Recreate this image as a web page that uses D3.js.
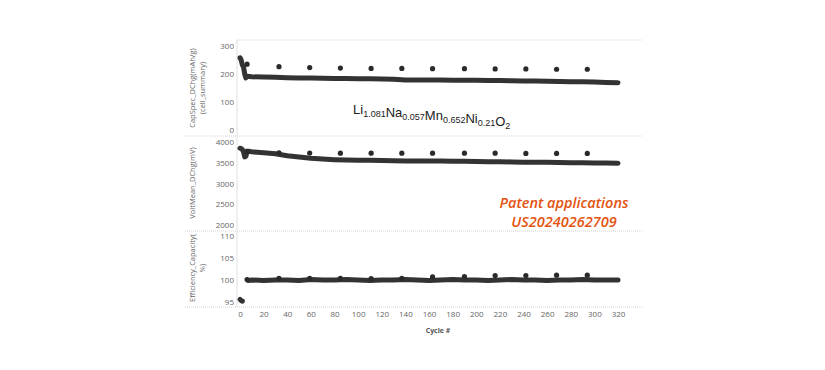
<!DOCTYPE html>
<html><head><meta charset="utf-8">
<script src="https://cdn.jsdelivr.net/npm/d3@7"></script>
<style>body{margin:0;background:#fff}svg{display:block}</style>
</head><body><svg id="c" width="825" height="370"></svg>
<script>
// ---- data ----
const cycles = [0,1,2,3,4,5,6,8,10,20,30,40,50,60,70,80,90,100,110,120,130,140,150,160,170,180,190,200,210,220,230,240,250,260,270,280,290,300,310,320];
const capacity = [258,250,232,225,200,186,192,191,190,189,188,187,186,186,185,184,184,183,183,182,181,179,179,179,179,178,178,178,177,177,176,175,175,174,173,172,172,171,170,169];
const voltage = [3850,3840,3820,3760,3640,3660,3780,3775,3765,3740,3715,3670,3640,3610,3590,3575,3565,3560,3560,3555,3550,3545,3545,3540,3540,3535,3535,3530,3525,3525,3520,3515,3515,3510,3505,3500,3500,3495,3495,3490];
const effStartCycles = [0,1,2];
const effStart = [95.6,95.3,95.2];
const effCycles = [7,10,20,30,40,50,60,70,80,90,100,110,120,130,140,150,160,170,180,190,200,210,220,230,240,250,260,270,280,290,300,310,320];
const efficiency = [99.9,100.0,99.9,100.0,100.0,99.9,100.1,100.0,100.0,100.1,100.0,99.9,100.0,100.0,100.1,100.0,99.9,100.0,100.1,100.0,100.0,99.9,100.0,100.1,100.0,100.0,99.9,100.0,100.0,100.1,100.0,100.0,100.0];
const dotCycles = [6,33,59,85,111,137,163,190,216,242,268,294];
const capDots = [235,226,223,221,220,220,219,219,218,218,217,217];
const voltDots = [3760,3740,3735,3730,3730,3730,3730,3730,3730,3725,3725,3725];
const effDots = [100.1,100.4,100.4,100.4,100.3,100.4,100.7,100.8,101.0,101.0,101.1,101.1];
const xTicks = [0,20,40,60,80,100,120,140,160,180,200,220,240,260,280,300,320];
const capTicks = [0,100,200,300];
const voltTicks = [2000,2500,3000,3500,4000];
const effTicks = [95,100,105,110];

const svg = d3.select("#c");
const font = "'Open Sans', 'Liberation Sans', sans-serif";
const x = d3.scaleLinear().domain([0,320]).range([240,618]);
const yCap = d3.scaleLinear().domain([0,300]).range([130,46]);
const yVolt = d3.scaleLinear().domain([2000,4000]).range([225,142]);
const yEff = d3.scaleLinear().domain([95,110]).range([302,236]);

// separators
const sep = [[237,40],[185,136],[185,231],[185,307]];
sep.forEach(([x0,y])=>svg.append("line").attr("x1",x0).attr("x2",642).attr("y1",y).attr("y2",y)
  .attr("stroke","#d4d4d4").attr("stroke-width",1).attr("stroke-dasharray","1,1"));
svg.append("line").attr("x1",237).attr("x2",237).attr("y1",40).attr("y2",307).attr("stroke","#e0e0e0");

// y axes
function yAxis(scale, ticks){
  const g = svg.append("g").attr("transform","translate(235,0)")
    .call(d3.axisLeft(scale).tickValues(ticks).tickSize(0).tickPadding(1).tickFormat(d3.format("d")));
  g.select(".domain").remove();
  g.selectAll("text").attr("font-family",font).attr("font-size",8).attr("fill","#666");
}
yAxis(yCap,capTicks); yAxis(yVolt,voltTicks); yAxis(yEff,effTicks);

// x axis
const gx = svg.append("g").attr("transform","translate(0,311)")
  .call(d3.axisBottom(x).tickValues(xTicks).tickSize(0).tickPadding(0));
gx.select(".domain").remove();
gx.selectAll("text").attr("font-family",font).attr("font-size",8).attr("fill","#666");
svg.append("text").attr("x",438).attr("y",333).attr("text-anchor","middle").attr("font-family",font)
  .attr("font-size",7).attr("font-weight","bold").attr("fill","#555").text("Cycle #");

// y titles
function yTitle(lines, cx, cy){
  lines.forEach((t,i)=>svg.append("text").attr("transform",`translate(${cx+i*10},${cy}) rotate(-90)`)
    .attr("text-anchor","middle").attr("font-family",font).attr("font-size",7.5).attr("fill","#666").text(t));
}
yTitle(["CapSpec_DChg(mAh/g)","(cell_summary)"],195,88);
yTitle(["VoltMean_DChg(mV)"],195,183);
yTitle(["Efficiency_Capacity(","%)"],195,268);

// lines
const dark = "#333";
function series(cs, vs, ys){
  const pts = cs.map((c,i)=>[x(c), ys(vs[i])]);
  svg.append("path").attr("d",d3.line()(pts)).attr("fill","none").attr("stroke",dark)
    .attr("stroke-width",5).attr("stroke-linejoin","round").attr("stroke-linecap","round");
}
series(cycles,capacity,yCap);
series(cycles,voltage,yVolt);
series(effStartCycles,effStart,yEff);
series(effCycles,efficiency,yEff);

function dots(vs, ys){
  svg.append("g").selectAll("circle").data(dotCycles).join("circle")
    .attr("cx",c=>x(c)).attr("cy",(c,i)=>ys(vs[i])).attr("r",2.6).attr("fill","#2a2a2a");
}
dots(capDots,yCap); dots(voltDots,yVolt); dots(effDots,yEff);

// formula
const f = svg.append("text").attr("x",353).attr("y",114).attr("font-family","'Liberation Sans', Arial, sans-serif")
  .attr("font-size",13).attr("fill","#222");
[["Li","1.081"],["Na","0.057"],["Mn","0.652"],["Ni","0.21"],["O","2"]].forEach(([el,s])=>{
  f.append("tspan").attr("dy",0).text(el);
  f.append("tspan").attr("font-size",9).attr("dy",3).text(s);
  f.append("tspan").attr("font-size",13).attr("dy",-3).text("");
});

// watermark
const wm = svg.append("text").attr("text-anchor","middle").attr("font-family","'Open Sans', sans-serif")
  .attr("font-style","italic").attr("font-weight",600).attr("font-size",14.5).attr("fill","#e3530f");
wm.append("tspan").attr("x",564).attr("y",208).text("Patent applications");
wm.append("tspan").attr("x",564).attr("y",227).text("US20240262709");
</script></body></html>
